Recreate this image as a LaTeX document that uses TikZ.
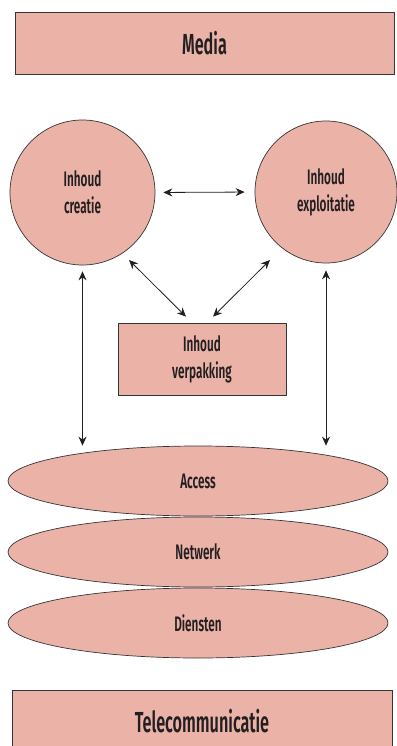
\documentclass[tikz,border=0pt]{standalone}
\usepackage{fontspec}
\setmainfont{Fira Sans}[FakeStretch=0.56, UprightFont={* SemiBold}]
\usetikzlibrary{arrows.meta}
\usetikzlibrary{shapes.geometric}

\definecolor{rosefill}{RGB}{235,179,168}
\definecolor{edgegray}{RGB}{55,52,53}
\definecolor{inkdark}{RGB}{35,31,32}

\tikzset{
  blok/.style={draw=edgegray, line width=0.9pt, fill=rosefill, text=inkdark,
    inner sep=0pt, font=\fontsize{29}{30}\selectfont},
  bol/.style={circle, draw=edgegray, line width=0.7pt, fill=rosefill, text=inkdark,
    inner sep=0pt, minimum size=145pt, align=center, font=\fontsize{21}{27}\selectfont},
  laag/.style={ellipse, draw=edgegray, line width=0.7pt, fill=rosefill, text=inkdark,
    inner sep=0pt, minimum width=380pt, minimum height=70pt, font=\fontsize{21}{24}\selectfont},
  pijl/.style={{Stealth[length=9pt,width=8pt]}-{Stealth[length=9pt,width=8pt]},
    line width=0.8pt, draw=inkdark}
}

\begin{document}
\begin{tikzpicture}[x=1pt,y=1pt]
  \useasboundingbox (0,0) rectangle (396,-746);
  % boxes on top and bottom
  \node[blok, minimum width=379pt, minimum height=62pt] (media) at (204.5,-43) {Media};
  \node[blok, minimum width=380pt, minimum height=62pt] (telecom) at (202,-721) {Telecommunicatie};

  % content circles
  \node[bol] (creatie) at (82.5,-192.5) {Inhoud\\creatie};
  \node[bol, minimum size=142pt] (exploitatie) at (326,-192) {Inhoud\\exploitatie};
  \node[blok, minimum width=168pt, minimum height=72pt, align=center,
    line width=0.7pt, font=\fontsize{21}{27}\selectfont] (verpakking) at (202,-359) {Inhoud\\verpakking};

  % layers
  \node[laag] (access) at (198,-481) {Access};
  \node[laag] (netwerk) at (198,-552) {Netwerk};
  \node[laag] (diensten) at (198,-623) {Diensten};

  % arrows
  \draw[pijl, shorten <=8pt, shorten >=10pt] (creatie.east) -- (exploitatie.west);
  \draw[pijl] ([shift={(46.5pt,-67.5pt)}]creatie.center) -- ([shift={(-16pt,6pt)}]verpakking.north);
  \draw[pijl] ([shift={(-56pt,-68pt)}]exploitatie.center) -- ([shift={(11pt,6pt)}]verpakking.north);
  \draw[pijl, shorten <=6pt] (creatie.south) -- (creatie.south |- access.north);
  \draw[pijl, shorten <=7pt] (exploitatie.south) -- (exploitatie.south |- access.north);
\end{tikzpicture}
\end{document}
